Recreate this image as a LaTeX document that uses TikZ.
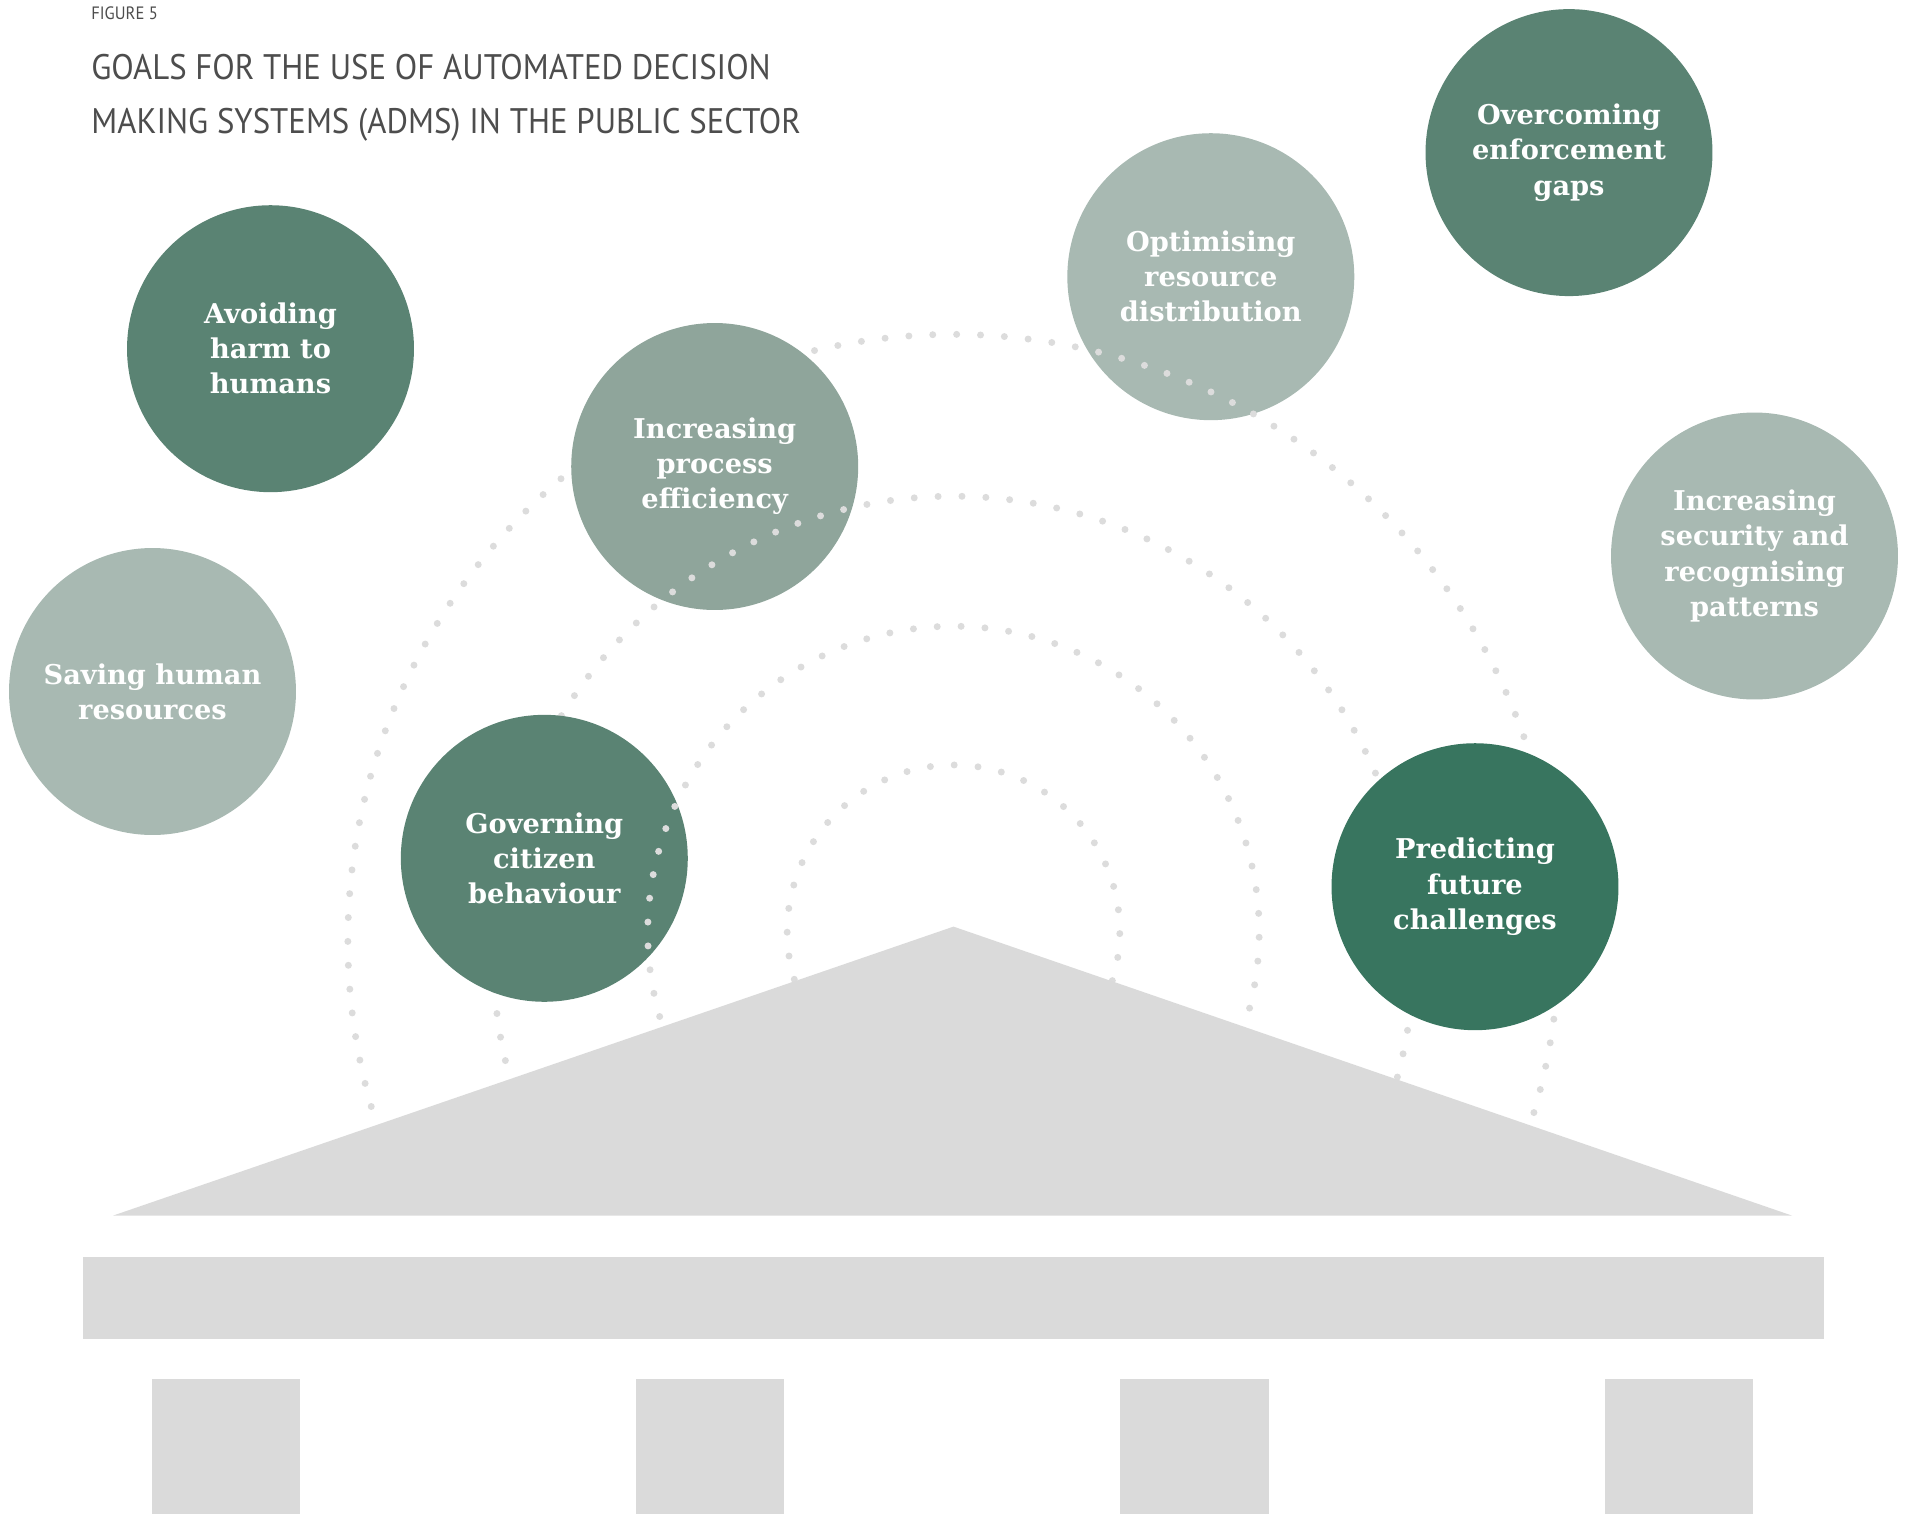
\documentclass[tikz,border=0pt]{standalone}
\usepackage{fontspec}
\newfontfamily\goalserif{DejaVu Serif}
\newfontfamily\titlefont[FakeStretch=0.925]{PT Sans}
\definecolor{gmid}{HTML}{5A8373}
\definecolor{glight}{HTML}{A8B9B2}
\definecolor{gproc}{HTML}{8FA59B}
\definecolor{gdark}{HTML}{38755F}
\definecolor{dotgray}{HTML}{DCDCDC}
\definecolor{bldgray}{HTML}{DADADA}
\definecolor{titlegray}{HTML}{4D4D4D}
\tikzset{
  goal/.style={circle, minimum size=5.74cm, inner sep=0pt, draw=none, align=center,
    text=white, font=\goalserif\bfseries\fontsize{15.5}{20}\selectfont},
  dotarc/.style={draw=dotgray, line width=3.97pt, line cap=round, dash pattern=on 0pt off 13.6pt},
  bld/.style={fill=bldgray, draw=none},
  ttl/.style={anchor=base west, inner sep=0pt, text=titlegray}
}
\begin{document}
\begin{tikzpicture}[x=0.02cm,y=0.02cm]
\useasboundingbox (0,0) rectangle (1906,-1514);
% arc centres
\coordinate (cA) at (953.5,-931.3);
\coordinate (cB) at (953.5,-932);
\coordinate (cC) at (953.5,-956.3);
\coordinate (cD) at (953.5,-940);
% circles behind arcs
\node[goal, fill=glight] (optimise) at (1210.8,-276.7) {Optimising\\resource\\distribution};
\draw[dotarc] (cD) ++(205:605.5) arc[start angle=205, end angle=-25, radius=605.5];
\node[goal, fill=gproc] (process) at (714.7,-466.5) {Increasing\\process\\efficiency};
\draw[dotarc] (cC) ++(205:460) arc[start angle=205, end angle=-25, radius=460];
\node[goal, fill=gmid] (govern) at (544.3,-858.3) {Governing\\citizen\\behaviour};
\node[goal, fill=gdark] (predict) at (1475,-886.7) {Predicting\\future\\challenges};
\draw[dotarc] (cB) ++(205:305.7) arc[start angle=205, end angle=-25, radius=305.7];
\draw[dotarc] (cA) ++(205:166.3) arc[start angle=205, end angle=-25, radius=166.3];
% other circles
\node[goal, fill=gmid] (avoid) at (270.5,-348.7) {Avoiding\\harm to\\humans};
\node[goal, fill=glight] (saving) at (152.5,-691.5) {Saving human\\resources};
\node[goal, fill=gmid] (overcome) at (1569,-152.6) {Overcoming\\enforcement\\gaps};
\node[goal, fill=glight] (security) at (1754.5,-556) {Increasing\\security and\\recognising\\patterns};
% building
\fill[bld] (113,-1215.6) -- (953.5,-926.6) -- (1792,-1215.6) -- cycle;
\fill[bld] (82.6,-1257) rectangle (1823.8,-1338.5);
\fill[bld] (151.9,-1378.5) rectangle (300.1,-1514);
\fill[bld] (635.5,-1378.5) rectangle (783.7,-1514);
\fill[bld] (1120.3,-1378.5) rectangle (1268.5,-1514);
\fill[bld] (1605.1,-1378.5) rectangle (1753.3,-1514);
% titles
\node[ttl, font=\titlefont\fontsize{10.2}{12}\selectfont] (fig) at (91,-19.3) {FIGURE 5};
\node[ttl, font=\titlefont\fontsize{20.2}{24}\selectfont] (t1) at (91,-80) {GOALS FOR THE USE OF AUTOMATED DECISION};
\node[ttl, font=\titlefont\fontsize{20.2}{24}\selectfont] (t2) at (91,-133.5) {MAKING SYSTEMS (ADMS) IN THE PUBLIC SECTOR};
\end{tikzpicture}
\end{document}
